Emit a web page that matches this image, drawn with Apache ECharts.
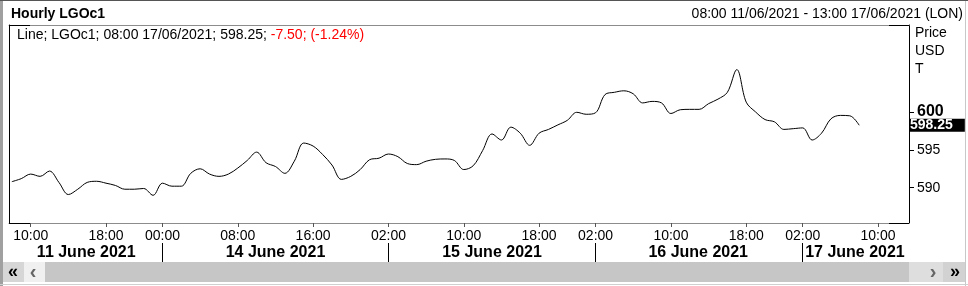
<!DOCTYPE html>
<html>
<head>
<meta charset="utf-8">
<script src="https://cdn.jsdelivr.net/npm/echarts@6/dist/echarts.min.js"></script>
<style>
html,body{margin:0;padding:0;background:#fff;}
#c{width:968px;height:286px;}
</style>
</head>
<body>
<div id="c"></div>
<script>
// Hourly trading-hour index (0 = 08:00 11/06/2021), one value per hour bar
const prices = [590.8,591.2,591.8,591.5,592.2,590.7,589.1,589.8,590.7,590.85,
590.6,590.3,589.8,589.8,589.9,589.0,590.6,590.2,590.2,591.9,
592.5,591.8,591.5,591.8,592.6,593.6,594.7,593.3,592.8,591.9,
593.5,595.9,595.5,594.4,593.0,591.1,591.5,592.4,593.7,593.9,
594.45,594.1,593.2,593.05,593.5,593.75,593.8,593.6,592.4,592.9,
594.9,597.1,596.3,598.0,597.2,595.6,597.2,597.7,598.3,598.9,
599.96,599.7,599.9,602.3,602.6,602.8,602.4,601.2,601.4,601.2,
599.8,600.3,600.35,600.35,601.1,601.7,602.6,605.6,601.3,600.0,
599.0,598.7,597.7,597.8,597.9,596.3,597.2,599.1,599.55,599.5,
598.25];
const hourTickIdx = [2,10,16,24,32,40,48,56,62,70,78,84,92];
const hourTickLabels = ['10:00','18:00','00:00','08:00','16:00','02:00','10:00','18:00','02:00','10:00','18:00','02:00','10:00'];
const dayBoundaryIdx = [16,40,62,84];
const dayLabelIdx = [7.9,28.0,51.0,72.9,89.55];
const dayLabels = ['11 June 2021','14 June 2021','15 June 2021','16 June 2021','17 June 2021'];
const yTicks = [590,595,600];
const lastPrice = 598.25;

const FONT = 'Liberation Sans, Arial, sans-serif';
const data = prices.map((v,i)=>[i,v]);
const chart = echarts.init(document.getElementById('c'), null, {renderer:'canvas'});
const xMin = -0.303, xMax = 95.29;

function seg(x1,y1,x2,y2,color,w){
  return {type:'line',silent:true,z:10,shape:{x1,y1,x2,y2},style:{stroke:color,lineWidth:w||1}};
}
function txt(x,y,text,font,fill,align,z){
  return {type:'text',silent:true,z:z||10,style:{x,y,text,font,fill:fill||'#000',textAlign:align||'left',textVerticalAlign:'middle'}};
}
function rect(x,y,w,h,fill){
  return {type:'rect',silent:true,z:5,shape:{x,y,width:w,height:h},style:{fill}};
}

const option = {
  animation:false,
  textStyle:{fontFamily:FONT},
  grid:{left:9,right:59,top:25,bottom:63,containLabel:false},
  xAxis:[
    {type:'value',min:xMin,max:xMax,position:'bottom',
     splitLine:{show:false},
     axisLine:{show:true,onZero:false,lineStyle:{color:'#8c8c8c',width:1}},
     axisTick:{show:true,customValues:hourTickIdx,length:4,lineStyle:{color:'#555'}},
     axisLabel:{show:true,customValues:hourTickIdx,margin:6,fontSize:14,color:'#000',fontFamily:FONT,
       formatter:(v)=>{const k=hourTickIdx.indexOf(Math.round(v));return k>=0?hourTickLabels[k]:'';}}},
    {type:'value',min:xMin,max:xMax,position:'bottom',offset:20,
     splitLine:{show:false},
     axisLine:{show:false,onZero:false},
     axisTick:{show:true,customValues:dayBoundaryIdx,length:19,lineStyle:{color:'#000'}},
     axisLabel:{show:true,customValues:dayLabelIdx,margin:2,fontSize:16,fontWeight:'bold',color:'#000',fontFamily:FONT,
       formatter:(v)=>{let best=0;dayLabelIdx.forEach((d,k)=>{if(Math.abs(d-v)<Math.abs(dayLabelIdx[best]-v))best=k;});return dayLabels[best];}}},
    {type:'value',min:xMin,max:xMax,position:'top',
     splitLine:{show:false},
     axisLine:{show:true,onZero:false,lineStyle:{color:'#8c8c8c',width:1}},
     axisTick:{show:false},axisLabel:{show:false}}
  ],
  yAxis:[
    {type:'value',min:585.34,max:611.49,position:'right',
     splitLine:{show:false},
     axisLine:{show:true,onZero:false,lineStyle:{color:'#000',width:1}},
     axisTick:{show:true,customValues:yTicks,length:5,lineStyle:{color:'#000'}},
     axisLabel:{show:true,customValues:yTicks,margin:8,fontSize:14,color:'#000',fontFamily:FONT,
       formatter:(v)=> v===600?'{b|600}':String(v),
       rich:{b:{fontSize:16,fontWeight:'bold',color:'#000',fontFamily:FONT}}}},
    {type:'value',min:585.34,max:611.49,position:'left',
     splitLine:{show:false},
     axisLine:{show:true,onZero:false,lineStyle:{color:'#000',width:1}},
     axisTick:{show:false},axisLabel:{show:false}}
  ],
  series:[{
    type:'line',xAxisIndex:0,yAxisIndex:0,data:data,
    showSymbol:false,smooth:0.35,
    lineStyle:{color:'#000',width:1},
    silent:true,
    markLine:{silent:true,symbol:'none',
      lineStyle:{color:'rgba(0,0,0,0)',width:0},
      label:{show:true,position:'end',distance:0,formatter:String(lastPrice),
        backgroundColor:'#000',color:'#fff',fontWeight:'bold',fontSize:14,fontFamily:FONT,
        padding:[0,12,0,1],lineHeight:13,opacity:1},
      data:[{yAxis:lastPrice}]}
  }],
  graphic:[
    // outer frame
    seg(0,0.5,968,0.5,'#555'),
    rect(0,1,3,285,'#a0a0a0'),
    seg(965.5,1,965.5,286,'#c8c8c8'),
    seg(0,284.5,968,284.5,'#d0d0d0'),
    // black corner segments of the plot frame
    seg(9,25.5,30,25.5,'#000'), seg(889,25.5,909,25.5,'#000'),
    seg(9,223.5,30,223.5,'#000'), seg(889,223.5,909,223.5,'#000'),
    // headers
    txt(11,14,'Hourly LGOc1','bold 14px '+FONT),
    txt(963,14,'08:00 11/06/2021 - 13:00 17/06/2021 (LON)','14px '+FONT,'#000','right'),
    {type:'text',silent:true,z:10,style:{x:17,y:35,textVerticalAlign:'middle',
      text:'{a|Line; LGOc1; 08:00 17/06/2021; 598.25; }{r|-7.50; (-1.24%)}',
      rich:{a:{fontSize:14,fontFamily:FONT,fill:'#000'},r:{fontSize:14,fontFamily:FONT,fill:'#ff0000'}}}},
    txt(915,33,'Price','14px '+FONT),
    txt(915,51,'USD','14px '+FONT),
    txt(915,69,'T','14px '+FONT),
    // scroll bar
    rect(3,262,21,20,'#d6d6d6'),
    rect(24,262,21,20,'#f0f0f0'),
    rect(45,262,864,20,'#c6c6c6'),
    rect(909,262,34,20,'#dedede'),
    rect(943,262,22,20,'#d2d2d2'),
    txt(13,272,'«','bold 18px '+FONT,'#000','center'),
    txt(33,272,'‹','bold 20px '+FONT,'#666','center'),
    txt(933,272,'›','bold 20px '+FONT,'#666','center'),
    txt(955,272,'»','bold 18px '+FONT,'#000','center')
  ]
};
chart.setOption(option);
</script>
</body>
</html>
